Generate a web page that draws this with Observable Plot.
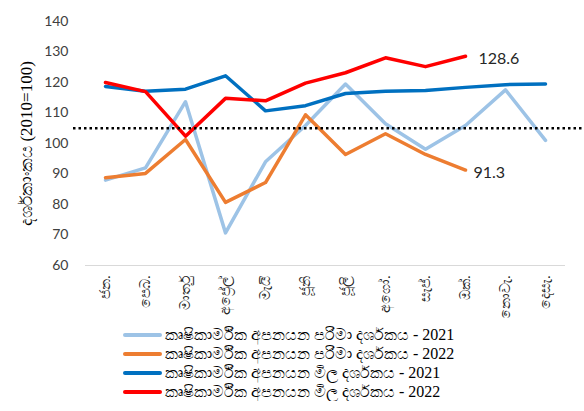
<!DOCTYPE html>
<html>
<head>
<meta charset="utf-8">
<script src="https://cdn.jsdelivr.net/npm/d3@7"></script>
<script src="https://cdn.jsdelivr.net/npm/@observablehq/plot@0.6"></script>
<style>
  body { margin: 0; background: #fff; font-family: "Noto Sans", sans-serif; }
  #legend { margin-left: 123px; margin-top: 7px; font-family: "Liberation Serif", serif; font-size: 16px; color: #000; }
  .row { display: flex; align-items: center; height: 19px; }
  .sw { width: 39px; height: 4px; border-radius: 2px; margin-right: 3px; }
  g[aria-label="y-axis label"] text { font-family: "Liberation Serif", serif; font-size: 17px; fill: #000; }
</style>
</head>
<body>
<div id="chart"></div>
<div id="legend"></div>
<script>
const months = ["ජන.", "පෙබ.", "මාර්තු", "අප්‍රේල්", "මැයි", "ජූනි", "ජූලි", "අගෝ.", "සැප්.", "ඔක්.", "නොවැ.", "දෙසැ."];
const seriesNames = [
  "කෘෂිකාර්මික අපනයන පරිමා දර්ශකය - 2021",
  "කෘෂිකාර්මික අපනයන පරිමා දර්ශකය - 2022",
  "කෘෂිකාර්මික අපනයන මිල දර්ශකය - 2021",
  "කෘෂිකාර්මික අපනයන මිල දර්ශකය - 2022"
];
const seriesColors = ["#9DC3E6", "#ED7D31", "#0070C0", "#FF0000"];
const volume2021 = [88.0, 92.0, 113.7, 70.7, 94.0, 105.9, 119.5, 106.5, 98.1, 105.9, 117.6, 101.0];
const volume2022 = [88.8, 90.2, 101.3, 80.7, 87.2, 109.4, 96.4, 103.2, 96.4, 91.3];
const price2021 = [118.7, 117.1, 117.8, 122.2, 110.7, 112.4, 116.4, 117.1, 117.4, 118.4, 119.3, 119.5];
const price2022 = [120.0, 117.0, 102.4, 114.8, 114.0, 119.8, 123.2, 128.1, 125.2, 128.6];
const yTicks = [60, 70, 80, 90, 100, 110, 120, 130, 140];
const referenceLevel = 105;
const yTitle = "දර්ශකාංකය (2010=100)";

const allSeries = [volume2021, volume2022, price2021, price2022];
const rows = [];
allSeries.forEach((vals, si) => vals.forEach((v, i) => rows.push({series: seriesNames[si], month: months[i], value: v})));
const endLabels = [
  {series: seriesNames[3], month: months[price2022.length - 1], value: price2022[price2022.length - 1]},
  {series: seriesNames[1], month: months[volume2022.length - 1], value: volume2022[volume2022.length - 1]}
];

const plot = Plot.plot({
  width: 584,
  height: 318,
  marginLeft: 85,
  marginRight: 19,
  marginTop: 21,
  marginBottom: 53,
  style: {fontFamily: "Lato, sans-serif", background: "#fff"},
  x: {type: "point", domain: months, padding: 0.5},
  y: {domain: [60, 140], ticks: yTicks},
  color: {domain: seriesNames, range: seriesColors},
  marks: [
    Plot.ruleY([60], {stroke: "#d9d9d9", strokeWidth: 1}),
    Plot.axisY({ticks: yTicks, tickSize: 0, tickPadding: 17, fontSize: 14, fill: "#404040",
      label: yTitle, labelAnchor: "center", labelArrow: "none", labelOffset: 66}),
    Plot.axisX({tickSize: 0, tickRotate: -90, tickPadding: 10, fontSize: 14, fill: "#222", label: null}),
    Plot.line(rows, {x: "month", y: "value", z: "series", stroke: "series", strokeWidth: 3.5, strokeLinecap: "round", strokeLinejoin: "round"}),
    Plot.ruleY([referenceLevel], {stroke: "#000", strokeWidth: 2.5, strokeDasharray: "2.5 3", insetLeft: -12, insetRight: -19}),
    Plot.text(endLabels.slice(0, 1), {x: "month", y: "value", text: d => d.value.toFixed(1), dx: 13, dy: 3, textAnchor: "start", fontSize: 16, fill: "#262626"}),
    Plot.text(endLabels.slice(1), {x: "month", y: "value", text: d => d.value.toFixed(1), dx: 8, dy: 3, textAnchor: "start", fontSize: 16, fill: "#262626"})
  ]
});
document.getElementById("chart").appendChild(plot);

const legend = document.getElementById("legend");
seriesNames.forEach((name, i) => {
  const row = document.createElement("div");
  row.className = "row";
  const sw = document.createElement("span");
  sw.className = "sw";
  sw.style.background = seriesColors[i];
  const t = document.createElement("span");
  t.textContent = name;
  row.appendChild(sw);
  row.appendChild(t);
  legend.appendChild(row);
});
</script>
</body>
</html>
